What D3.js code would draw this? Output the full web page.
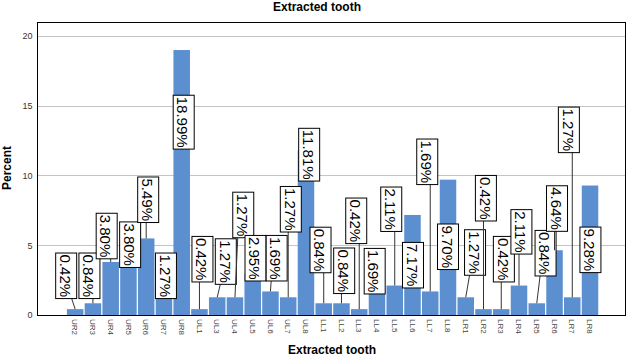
<!DOCTYPE html>
<html>
<head>
<meta charset="utf-8">
<script src="https://cdn.jsdelivr.net/npm/d3@7"></script>
<style>
  html, body { margin: 0; padding: 0; background: #fff; }
  svg { display: block; font-family: "Liberation Sans", Arial, sans-serif; }
</style>
</head>
<body>
<div id="chart"></div>
<script>
// ---- data ----
const categories = ["UR2","UR3","UR4","UR5","UR6","UR7","UR8","UL1","UL3","UL4","UL5","UL6","UL7","UL8",
  "LL1","LL2","LL3","LL4","LL5","LL6","LL7","LL8","LR1","LR2","LR3","LR4","LR5","LR6","LR7","LR8"];
const percents = [0.42,0.84,3.80,3.80,5.49,1.27,18.99,0.42,1.27,1.27,2.95,1.69,1.27,11.81,
  0.84,0.84,0.42,1.69,2.11,7.17,1.69,9.70,1.27,0.42,0.42,2.11,0.84,4.64,1.27,9.28];
const yTicks = [0,5,10,15,20];
const chartTitle = "Extracted tooth";
const xTitle = "Extracted tooth";
const yTitle = "Percent";

// ---- label layout (pixel x offset from bar centre, label centre in y units) ----
const labelDx = [-9,-3.5,-4,1.7,2,2,2,3,8.6,8.3,2.8,6.2,2.6,3.2,
  -3.2,2.7,-3,-2.3,-3.5,0.5,-3,0,9.3,2.4,2.6,2.4,8.8,2.5,-3.4,0.4];
const labelYv = [2.81,2.81,5.66,5.04,8.26,2.81,13.82,4.00,3.83,7.17,4.07,4.07,7.58,11.49,
  4.66,3.17,6.75,3.14,7.58,3.57,10.98,4.89,4.48,8.37,4.00,5.96,4.43,7.63,13.27,4.67];

const W = 629, H = 356;
const plot = {left: 37, right: 626, top: 22, bottom: 315};

const svg = d3.select("#chart").append("svg").attr("width", W).attr("height", H);

const x = d3.scaleBand().domain(categories).range([66.3, 598.9]).paddingInner(0.07).paddingOuter(0.035);
const y = d3.scaleLinear().domain([0, 21]).range([plot.bottom, plot.top]);

// grid
svg.append("g").selectAll("line").data(yTicks.filter(d => d > 0)).join("line")
  .attr("x1", plot.left).attr("x2", plot.right)
  .attr("y1", d => Math.round(y(d)) + 0.5).attr("y2", d => Math.round(y(d)) + 0.5)
  .attr("stroke", "#c4c4c4").attr("stroke-width", 1);

// y axis labels
const yAxis = d3.axisLeft(y).tickValues(yTicks).tickSize(0).tickPadding(4.5);
const gy = svg.append("g").attr("transform", `translate(${plot.left},0)`).call(yAxis);
gy.select(".domain").remove();
gy.selectAll("text").attr("font-size", 9).attr("fill", "#333").attr("font-family", "Liberation Sans, Arial, sans-serif");

// bars
svg.append("g").selectAll("rect").data(percents).join("rect")
  .attr("x", (d, i) => x(categories[i]))
  .attr("width", x.bandwidth())
  .attr("y", d => y(d))
  .attr("height", d => plot.bottom - y(d))
  .attr("fill", "#5b8fcf");

// x axis labels
const xAxis = d3.axisBottom(x).tickSize(0).tickPadding(0);
const gx = svg.append("g").attr("transform", `translate(0,${plot.bottom})`).call(xAxis);
gx.select(".domain").remove();
gx.selectAll("text")
  .attr("font-size", 8).attr("fill", "#444")
  .attr("font-family", "Liberation Sans, Arial, sans-serif")
  .attr("text-anchor", "start").attr("dy", "0.35em")
  .attr("transform", "translate(0,4) rotate(90)")
  .attr("y", 0).attr("x", 0);

// frame
svg.append("rect").attr("x", plot.left + 0.5).attr("y", plot.top + 0.5)
  .attr("width", plot.right - plot.left - 1).attr("height", plot.bottom - plot.top)
  .attr("fill", "none").attr("stroke", "#000").attr("stroke-width", 1);

// labels
const fs = 15;
const lg = svg.append("g");
percents.forEach((v, i) => {
  const txt = v.toFixed(2) + "%";
  const bc = x(categories[i]) + x.bandwidth() / 2;
  const cx = bc + labelDx[i];
  const cy = y(labelYv[i]);
  // measure
  const t = lg.append("text").attr("font-size", fs).text(txt);
  const len = t.node().getComputedTextLength();
  t.remove();
  const boxH = len + 3, boxW = 21;
  const top = cy - boxH / 2, bottom = cy + boxH / 2;
  const barTop = y(v);
  if (barTop > bottom + 1) {
    const sx = Math.max(cx - boxW / 2 + 5, Math.min(cx + boxW / 2 - 5, bc));
    lg.append("line").attr("x1", sx).attr("y1", bottom).attr("x2", bc).attr("y2", barTop)
      .attr("stroke", "#333").attr("stroke-width", 1);
  }
  lg.append("rect").attr("x", cx - boxW / 2).attr("y", top)
    .attr("width", boxW).attr("height", boxH)
    .attr("fill", "#fff").attr("stroke", "#000").attr("stroke-width", 1);
  lg.append("text").attr("font-size", fs).attr("fill", "#000")
    .attr("text-anchor", "middle").attr("dominant-baseline", "central")
    .attr("transform", `translate(${cx},${cy}) rotate(90)`)
    .attr("dy", "0.05em")
    .text(txt);
});

// titles
svg.append("text").attr("x", 317).attr("y", 10.5).attr("text-anchor", "middle")
  .attr("font-size", 12).attr("font-weight", "bold").attr("fill", "#000").text(chartTitle);
svg.append("text").attr("x", 332).attr("y", 354).attr("text-anchor", "middle")
  .attr("font-size", 12).attr("font-weight", "bold").attr("fill", "#000").text(xTitle);
svg.append("text").attr("transform", "translate(11,168) rotate(-90)").attr("text-anchor", "middle")
  .attr("font-size", 12).attr("font-weight", "bold").attr("fill", "#000").text(yTitle);
</script>
</body>
</html>
